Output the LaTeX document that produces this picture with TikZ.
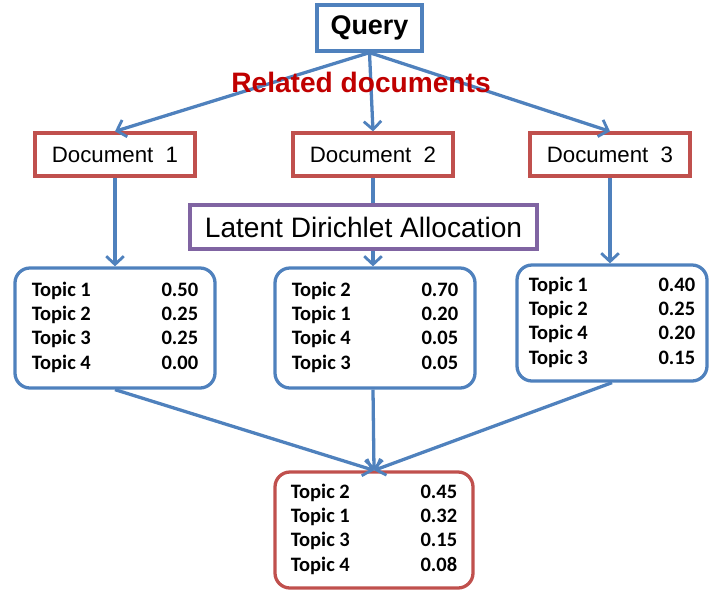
\documentclass[tikz,border=0pt]{standalone}
\usepackage{fontspec}
\setmainfont{Liberation Sans}
\newfontfamily\topicfont{Carlito}
\usetikzlibrary{arrows.meta}
\definecolor{linkblue}{RGB}{79,129,189}
\definecolor{docred}{RGB}{192,80,77}
\definecolor{ldapurple}{RGB}{128,100,162}
\definecolor{relred}{RGB}{192,0,0}
\tikzset{
  link/.style={draw=linkblue,line width=2.8pt,-{Straight Barb[length=7pt,width=15pt,line width=2.4pt]}},
  plainlink/.style={draw=linkblue,line width=2.8pt},
  querybox/.style={draw=linkblue,line width=2.8pt,fill=white,minimum width=3.15cm,minimum height=1.38cm,font=\fontsize{23}{26}\selectfont\bfseries},
  docbox/.style={draw=docred,line width=2.8pt,fill=white,minimum width=4.8cm,minimum height=1.29cm,font=\fontsize{19}{22}\selectfont},
  ldabox/.style={draw=ldapurple,line width=2.8pt,fill=white,minimum width=10.41cm,minimum height=1.32cm,font=\fontsize{24}{27}\selectfont},
  topicbox/.style={draw=linkblue,line width=2.8pt,fill=white,rounded corners=0.45cm,minimum width=6cm,minimum height=3.6cm,inner sep=0pt},
  relabel/.style={text=relred,font=\fontsize{24}{27}\selectfont\bfseries},
}
\newcommand{\tlist}[1]{{\topicfont\bfseries\fontsize{17.5}{20.7}\selectfont
  \begin{tabular*}{142pt}{@{}l@{\extracolsep{\fill}}r@{}}#1\end{tabular*}}}

\begin{document}
\begin{tikzpicture}[x=0.03cm,y=-0.03cm]
  \useasboundingbox (0,0) rectangle (709,592);
  % query and the related documents
  \node[querybox] (query) at (369.5,28) {Query};
  \node[docbox] (doc1) at (115,154.5) {Document\ \ 1};
  \node[docbox] (doc2) at (373,154.5) {Document\ \ 2};
  \node[docbox] (doc3) at (610,154.5) {Document\ \ 3};
  \node[ldabox] (lda) at (363.5,227) {Latent Dirichlet Allocation};
  % topic distributions
  \node[topicbox] (top1) at (115,328) {\tlist{Topic 1 & 0.50\\ Topic 2 & 0.25\\ Topic 3 & 0.25\\ Topic 4 & 0.00}};
  \node[topicbox] (top2) at (375,328) {\tlist{Topic 2 & 0.70\\ Topic 1 & 0.20\\ Topic 4 & 0.05\\ Topic 3 & 0.05}};
  \node[topicbox,minimum width=5.7cm,minimum height=3.48cm] (top3) at (612,323) {\tlist{Topic 1 & 0.40\\ Topic 2 & 0.25\\ Topic 4 & 0.20\\ Topic 3 & 0.15}};
  \node[topicbox,draw=docred,minimum width=5.94cm,minimum height=3.48cm] (res) at (374,530) {\tlist{Topic 2 & 0.45\\ Topic 1 & 0.32\\ Topic 3 & 0.15\\ Topic 4 & 0.08}};
  % connectors
  \draw[link] (query.south) -- (doc1.north);
  \draw[link] (query.south) -- (doc2.north);
  \draw[link] (query.south) -- (doc3.north);
  \draw[plainlink] (doc2.south) -- (doc2.south |- lda.north);
  \draw[link] (doc2.south |- lda.south) -- (doc2.south |- top2.north);
  \draw[link] (doc1) -- (top1);
  \draw[link] (doc3.south) -- (doc3.south |- top3.north);
  \draw[link] (top1.south) -- (res.north);
  \draw[link] (doc2.south |- top2.south) -- (res.north);
  \draw[link] (top3.south) -- (res.north);
  \node[relabel] (rel) at (361,82) {Related documents};
\end{tikzpicture}
\end{document}
